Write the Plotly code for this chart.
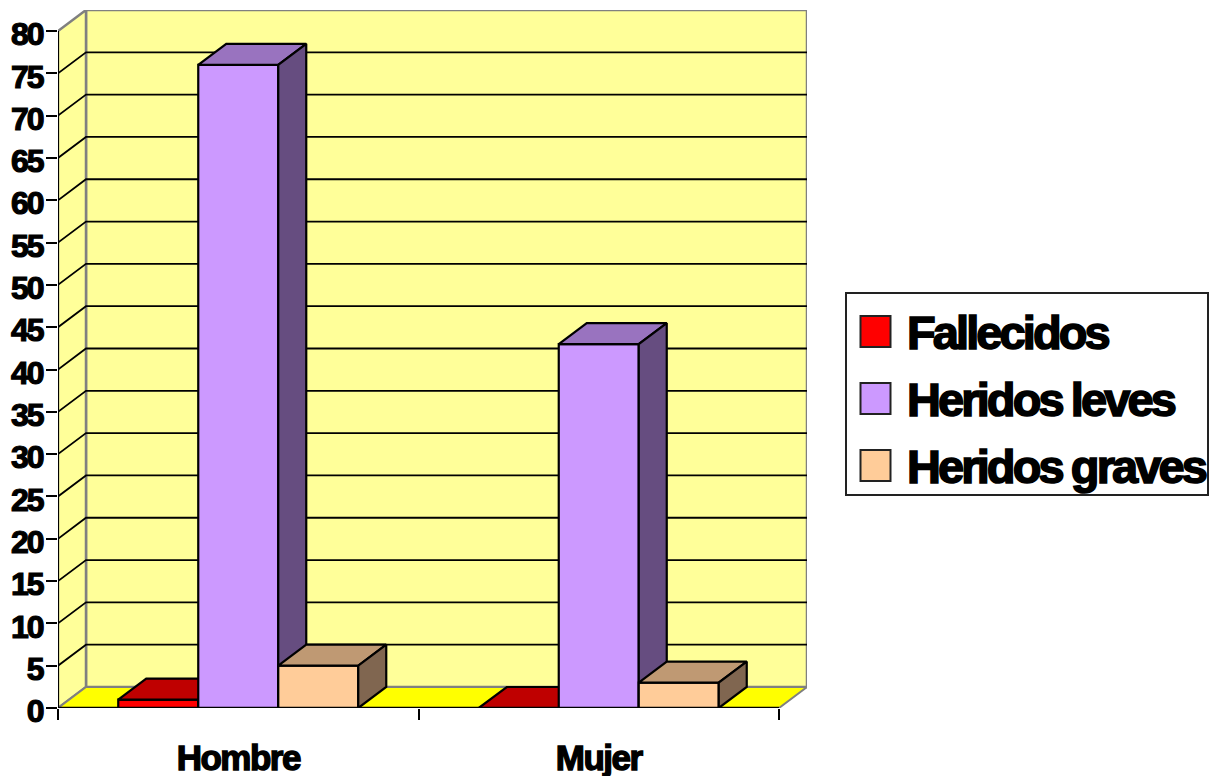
import plotly.graph_objects as go

categories = ["Hombre", "Mujer"]
series_names = ["Fallecidos", "Heridos leves", "Heridos graves"]
fallecidos = [1, 0]
heridos_leves = [76, 43]
heridos_graves = [5, 3]
y_ticks = list(range(0, 85, 5))

series_values = [fallecidos, heridos_leves, heridos_graves]
front_colors = ["#FF0000", "#CC99FF", "#FFCC99"]
top_colors = ["#BF0000", "#9973BF", "#BF9973"]
side_colors = ["#800000", "#664D80", "#806650"]

WALL = "#FFFF99"
FLOOR = "#FFFF00"
GREY = "#808080"
FONT = "Liberation Sans"

# plot-area pixel frame
L, R, T, B = 58, 807, 10, 708
W, H = R - L, B - T
YMAX = 80
unit_x = 360.5
dx = 28 / unit_x          # depth in x units
dy = 21 / (698 / 82.48)   # depth in y units
bar_w = 80 / unit_x
centers = [0.5, 1.5]
x_end = len(categories)


def px(v):
    return (v - L) / W


def py(v):
    return (B - v) / H


def poly(xs, ys, fill, line, z, width=2):
    return go.Scatter(
        x=xs, y=ys, mode="lines", fill="toself", fillcolor=fill,
        line=dict(color=line, width=width), hoverinfo="skip",
        showlegend=False, cliponaxis=False, zorder=z,
    )


def path(xs, ys, color, z, width=2):
    return go.Scatter(
        x=xs, y=ys, mode="lines", line=dict(color=color, width=width),
        hoverinfo="skip", showlegend=False, cliponaxis=False, zorder=z,
    )


fig = go.Figure()

# walls and floor
fig.add_trace(poly([dx, x_end + dx, x_end + dx, dx, dx],
                   [dy, dy, YMAX + dy, YMAX + dy, dy], WALL, GREY, 0, 2.5))
fig.add_trace(poly([0, dx, dx, 0, 0], [0, dy, YMAX + dy, YMAX, 0], WALL, GREY, 0, 2.5))
fig.add_trace(poly([0, x_end, x_end + dx, dx, 0], [0, 0, dy, dy, 0], FLOOR, GREY, 0, 2))

# grid lines round the walls
for v in y_ticks[1:-1]:
    fig.add_trace(path([0, dx, x_end + dx], [v, v + dy, v + dy], "#000000", 0, 1.8))

# bars, painted back to front per series
for k, (name, vals) in enumerate(zip(series_names, series_values)):
    z = k + 1
    fig.add_trace(go.Bar(
        x=centers, y=vals, name=name, width=bar_w,
        offset=[-1.5 * bar_w + k * bar_w for c in centers],
        marker=dict(color=front_colors[k], line=dict(color="#000000", width=2.2)),
        showlegend=False, zorder=z, cliponaxis=False,
    ))
    for c, v in zip(centers, vals):
        x0 = c - 1.5 * bar_w + k * bar_w
        x1 = x0 + bar_w
        fig.add_trace(poly([x0, x1, x1 + dx, x0 + dx, x0],
                           [v, v, v + dy, v + dy, v], top_colors[k], "#000000", z, 2.2))
        fig.add_trace(poly([x1, x1 + dx, x1 + dx, x1, x1],
                           [0, dy, v + dy, v, 0], side_colors[k], "#000000", z, 2.2))

# front axis lines
fig.add_trace(path([0, x_end], [0, 0], "#000000", 9, 2.5))
fig.add_trace(path([0, 0], [0, YMAX], "#000000", 9, 2))

# legend
shapes = [dict(type="rect", xref="paper", yref="paper",
               x0=px(846), x1=px(1208), y0=py(293), y1=py(495),
               line=dict(color="#222222", width=2), fillcolor="#FFFFFF")]
annotations = []
for name, color, top, mid in zip(series_names, front_colors, [316, 383, 450], [332, 399, 466]):
    shapes.append(dict(type="rect", xref="paper", yref="paper",
                       x0=px(860.5), x1=px(890.5), y0=py(top), y1=py(top + 31),
                       line=dict(color="#222222", width=2), fillcolor=color))
    annotations.append(dict(text=name, xref="paper", yref="paper",
                            x=px(905), y=py(mid), xanchor="left", yanchor="middle",
                            align="left", showarrow=False,
                            font=dict(family=FONT, size=47, color="#000000", weight=700)))

fig.update_layout(
    width=1216, height=776,
    margin=dict(l=L, r=1216 - R, t=T, b=776 - B, pad=0),
    paper_bgcolor="#FFFFFF", plot_bgcolor="#FFFFFF",
    barmode="overlay", showlegend=False,
    shapes=shapes, annotations=annotations,
    xaxis=dict(
        range=[0, x_end + dx], showgrid=False, zeroline=False, showline=False,
        automargin=False,
        tickmode="array", tickvals=centers, ticktext=categories,
        ticks="outside", ticklen=33, tickcolor="rgba(0,0,0,0)", tickwidth=1,
        ticklabelstandoff=-14,
        tickfont=dict(family=FONT, size=35, color="#000000", weight=700),
        minor=dict(tickmode="array", tickvals=[0, 1, 2], ticks="outside",
                   ticklen=11, tickwidth=2, tickcolor="#000000", showgrid=False),
    ),
    yaxis=dict(
        range=[0, YMAX + dy], showgrid=False, zeroline=False, showline=False,
        automargin=False,
        tickmode="array", tickvals=y_ticks, ticktext=[str(v) for v in y_ticks],
        ticks="outside", ticklen=11, tickwidth=2, tickcolor="#000000",
        ticklabelstandoff=-3, ticklabelshift=3,
        tickfont=dict(family=FONT, size=32, color="#000000", weight=700),
    ),
)

post = """
var s = document.createElement('style');
s.textContent = 'body{margin:0}'
 + '.xtick text{letter-spacing:-1.5px;stroke:#000;stroke-width:1.4px}'
 + '.ytick text{letter-spacing:-2px;stroke:#000;stroke-width:1.2px}'
 + '.annotation-text{letter-spacing:-2.9px;word-spacing:-1px;stroke:#000;stroke-width:1.6px}';
document.head.appendChild(s);
"""
fig.write_html("out.html", post_script=post, config={"displayModeBar": False})
